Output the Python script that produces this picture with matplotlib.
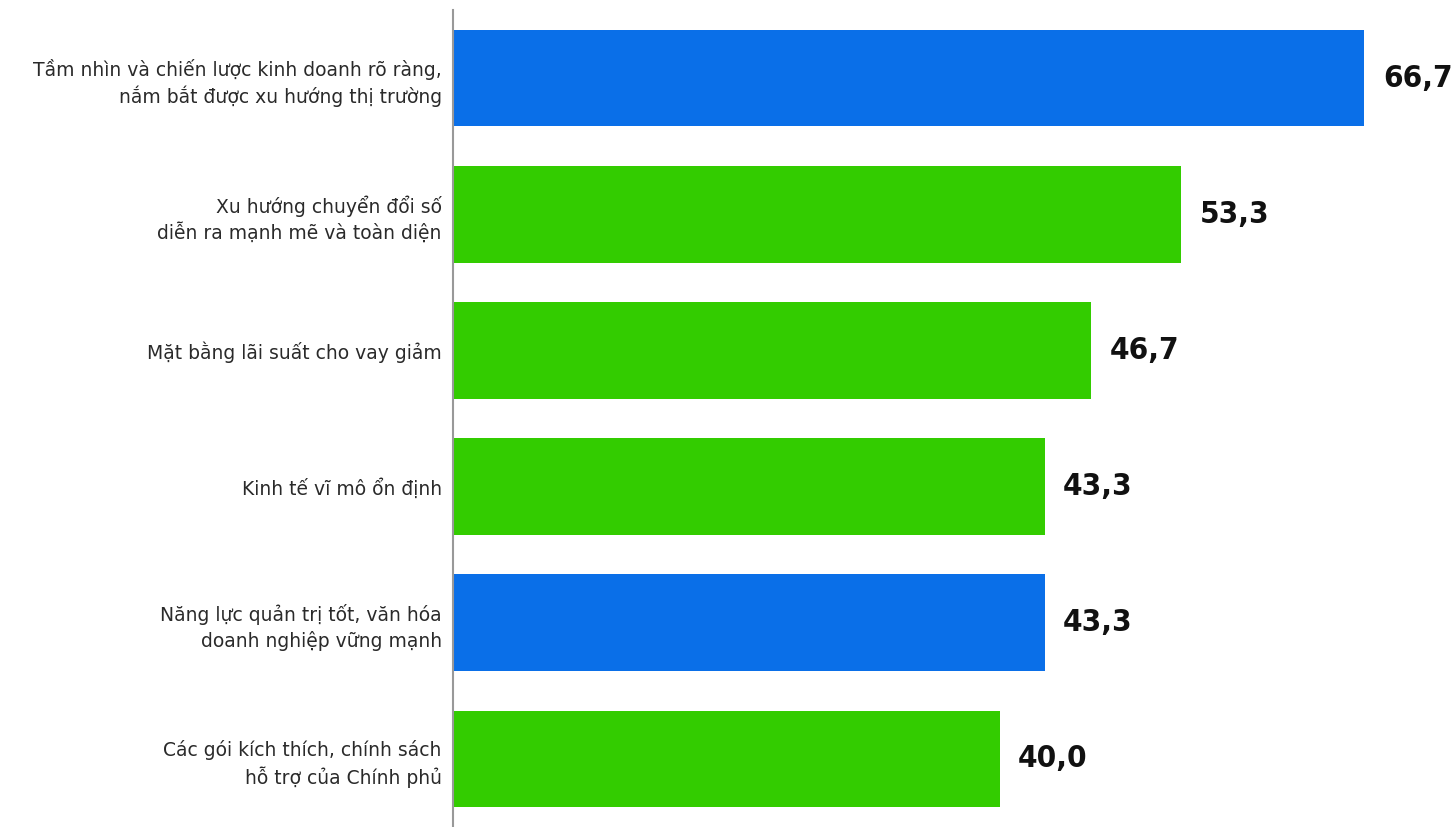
import numpy as np
import matplotlib.pyplot as plt

labels = [
    "Tầm nhìn và chiến lược kinh doanh rõ ràng,\nnắm bắt được xu hướng thị trường",
    "Xu hướng chuyển đổi số\ndiễn ra mạnh mẽ và toàn diện",
    "Mặt bằng lãi suất cho vay giảm",
    "Kinh tế vĩ mô ổn định",
    "Năng lực quản trị tốt, văn hóa\ndoanh nghiệp vững mạnh",
    "Các gói kích thích, chính sách\nhỗ trợ của Chính phủ",
]
values = [66.7, 53.3, 46.7, 43.3, 43.3, 40.0]
colors = ["#0a6fe8", "#33cc00", "#33cc00", "#33cc00", "#0a6fe8", "#33cc00"]

fig = plt.figure(figsize=(14.56, 8.27), dpi=100)
ax = fig.add_axes([0.311, 0.0, 0.689, 0.988])

y = np.arange(len(values))
ax.barh(y, values, height=0.71, color=colors)
ax.set_ylim(len(values) - 0.5, -0.5)
ax.set_xlim(0, 73.4)

ax.set_yticks(y)
ax.set_yticklabels(labels, fontsize=13.5, family=["DejaVu Sans"],
                   color="#2a2a2a", linespacing=1.35)
ax.tick_params(axis="y", length=0, pad=8)
ax.set_xticks([])

for s in ["top", "right", "bottom"]:
    ax.spines[s].set_visible(False)
ax.spines["left"].set_color("#999999")
ax.spines["left"].set_linewidth(1.5)

# value labels in condensed bold
for yi, v in zip(y, values):
    ax.text(v + 1.35, yi, f"{v:.1f}".replace(".", ","), va="center", ha="left",
            fontsize=22.5, fontweight="bold", fontstretch="condensed", color="#111111",
            family=["DejaVu Sans"])

fig.savefig("out.png", dpi=100)
